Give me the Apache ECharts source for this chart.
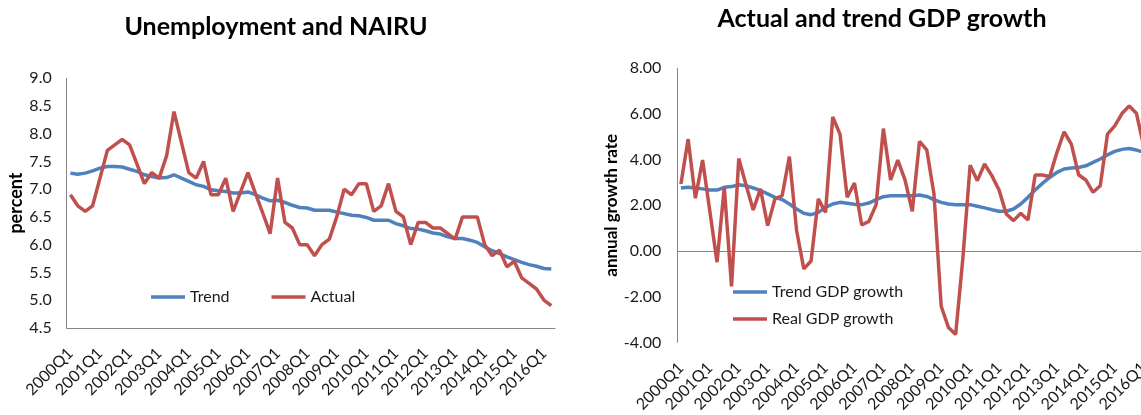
<!DOCTYPE html>
<html>
<head>
<meta charset="utf-8">
<script src="https://cdn.jsdelivr.net/npm/echarts@6/dist/echarts.min.js"></script>
<style>
html,body{margin:0;padding:0;background:#fff;overflow:hidden;width:1141px;height:415px;}
#c{width:1200px;height:415px;}
</style>
</head>
<body>
<div id="c"></div>
<script>
const quarters = [
"2000Q1","2000Q2","2000Q3","2000Q4","2001Q1","2001Q2","2001Q3","2001Q4",
"2002Q1","2002Q2","2002Q3","2002Q4","2003Q1","2003Q2","2003Q3","2003Q4",
"2004Q1","2004Q2","2004Q3","2004Q4","2005Q1","2005Q2","2005Q3","2005Q4",
"2006Q1","2006Q2","2006Q3","2006Q4","2007Q1","2007Q2","2007Q3","2007Q4",
"2008Q1","2008Q2","2008Q3","2008Q4","2009Q1","2009Q2","2009Q3","2009Q4",
"2010Q1","2010Q2","2010Q3","2010Q4","2011Q1","2011Q2","2011Q3","2011Q4",
"2012Q1","2012Q2","2012Q3","2012Q4","2013Q1","2013Q2","2013Q3","2013Q4",
"2014Q1","2014Q2","2014Q3","2014Q4","2015Q1","2015Q2","2015Q3","2015Q4",
"2016Q1","2016Q2"];

const unempTrend = [
7.29,7.27,7.29,7.33,7.38,7.41,7.41,7.40,7.36,7.32,
7.26,7.23,7.20,7.21,7.26,7.20,7.14,7.08,7.05,6.99,
6.97,6.96,6.93,6.93,6.95,6.90,6.84,6.79,6.80,6.76,
6.71,6.67,6.66,6.62,6.62,6.62,6.59,6.56,6.53,6.52,
6.49,6.44,6.44,6.44,6.38,6.34,6.29,6.28,6.25,6.21,
6.19,6.14,6.11,6.11,6.08,6.04,5.96,5.89,5.84,5.78,
5.73,5.68,5.64,5.61,5.57,5.56];

const unempActual = [
6.9,6.7,6.6,6.7,7.2,7.7,7.8,7.9,7.8,7.45,
7.1,7.3,7.2,7.6,8.4,7.85,7.3,7.2,7.5,6.9,
6.9,7.2,6.6,6.95,7.3,6.93,6.57,6.2,7.2,6.4,
6.3,6.0,6.0,5.8,6.0,6.1,6.5,7.0,6.9,7.1,
7.1,6.6,6.7,7.1,6.6,6.5,6.0,6.4,6.4,6.3,
6.3,6.2,6.1,6.5,6.5,6.5,6.0,5.8,5.9,5.6,
5.7,5.4,5.3,5.2,5.0,4.9];

const gdpTrend = [
2.76,2.79,2.76,2.72,2.67,2.67,2.79,2.82,2.90,2.86,
2.76,2.64,2.50,2.35,2.25,2.06,1.84,1.65,1.59,1.69,
1.91,2.06,2.13,2.09,2.05,2.03,2.10,2.25,2.38,2.42,
2.42,2.42,2.42,2.45,2.39,2.25,2.13,2.06,2.03,2.03,
2.03,1.96,1.89,1.81,1.74,1.74,1.84,2.06,2.35,2.67,
2.96,3.22,3.44,3.59,3.63,3.66,3.73,3.88,4.03,4.21,
4.36,4.45,4.49,4.42,4.33,null];

const gdpReal = [
2.93,4.90,2.31,3.98,1.74,-0.49,2.79,-1.55,4.05,2.9,
1.80,2.72,1.11,2.28,2.42,4.13,0.90,-0.78,-0.44,2.28,
1.69,5.87,5.12,2.35,2.98,1.14,1.30,2.03,5.36,3.11,
3.98,3.1,1.74,4.80,4.43,2.5,-2.42,-3.35,-3.65,-0.3,
3.76,3.08,3.81,3.30,2.67,1.62,1.33,1.65,1.36,3.33,
3.33,3.25,4.31,5.22,4.68,3.34,3.11,2.57,2.86,5.12,
5.48,6.02,6.35,6.03,4.6,null];

const FONT = 'Lato';
const BLUE = '#4F81BD';
const RED = '#C0504D';
const AXIS = '#868686';
const TXT = '#1a1a1a';

const chart = echarts.init(document.getElementById('c'), null, {renderer:'canvas'});

function catAxis(grid, showLine){
  return {
    type:'category', gridIndex:grid, data:quarters, boundaryGap:true,
    axisLine:{show:showLine, onZero:false, lineStyle:{color:AXIS,width:1}},
    axisTick:{show:false},
    axisLabel:{interval:3, rotate:45, margin:23, fontFamily:FONT, fontSize:16, color:TXT}
  };
}

chart.setOption({
  animation:false,
  title:[
    {text:'Unemployment and NAIRU', left:276, top:14, textAlign:'center', padding:0,
     textStyle:{fontFamily:FONT, fontWeight:'bold', fontSize:25, color:'#000'}},
    {text:'Actual and trend GDP growth', left:882, top:6, textAlign:'center', padding:0,
     textStyle:{fontFamily:FONT, fontWeight:'bold', fontSize:25, color:'#000'}}
  ],
  legend:[
    {data:['Trend','Actual'], left:151, top:289, padding:0, itemGap:42,
     icon:'rect', itemWidth:34, itemHeight:3.5,
     textStyle:{fontFamily:FONT, fontSize:16, color:TXT, lineHeight:16}},
    {data:['Trend GDP growth','Real GDP growth'], orient:'vertical', left:733, top:284, padding:0, itemGap:11,
     icon:'rect', itemWidth:34, itemHeight:3.5,
     textStyle:{fontFamily:FONT, fontSize:16, color:TXT, lineHeight:16}}
  ],
  grid:[
    {left:66.7, top:78.3, width:488.3, height:249.5},
    {left:677.3, top:68.3, width:477.2, height:275}
  ],
  xAxis:[
    catAxis(0, true),
    catAxis(1, false),
    {type:'category', gridIndex:1, data:quarters, boundaryGap:true, position:'bottom',
     axisLine:{show:true, onZero:true, lineStyle:{color:AXIS,width:1}},
     axisTick:{show:false}, axisLabel:{show:false}}
  ],
  yAxis:[
    {type:'value', gridIndex:0, min:4.5, max:9.0, interval:0.5,
     name:'percent', nameLocation:'middle', nameGap:41,
     nameTextStyle:{fontFamily:FONT, fontWeight:'bold', fontSize:18, color:'#000'},
     axisLine:{show:true, lineStyle:{color:AXIS,width:1}}, axisTick:{show:false},
     splitLine:{show:false},
     axisLabel:{margin:15, fontFamily:FONT, fontSize:16, color:TXT, formatter:v=>v.toFixed(1)}},
    {type:'value', gridIndex:1, min:-4, max:8, interval:2,
     name:'annual growth rate', nameLocation:'middle', nameGap:52,
     nameTextStyle:{fontFamily:FONT, fontWeight:'bold', fontSize:17, color:'#000'},
     axisLine:{show:true, lineStyle:{color:AXIS,width:1}}, axisTick:{show:false},
     splitLine:{show:false},
     axisLabel:{margin:16, fontFamily:FONT, fontSize:16, color:TXT, formatter:v=>v.toFixed(2)}}
  ],
  series:[
    {name:'Trend', type:'line', xAxisIndex:0, yAxisIndex:0, data:unempTrend,
     symbol:'none', lineStyle:{color:BLUE, width:3.5}, itemStyle:{color:BLUE}},
    {name:'Actual', type:'line', xAxisIndex:0, yAxisIndex:0, data:unempActual,
     symbol:'none', lineStyle:{color:RED, width:3.5}, itemStyle:{color:RED}},
    {name:'Trend GDP growth', type:'line', xAxisIndex:1, yAxisIndex:1, data:gdpTrend,
     symbol:'none', lineStyle:{color:BLUE, width:3.5}, itemStyle:{color:BLUE}},
    {name:'Real GDP growth', type:'line', xAxisIndex:1, yAxisIndex:1, data:gdpReal,
     symbol:'none', lineStyle:{color:RED, width:3.5}, itemStyle:{color:RED}}
  ]
});
</script>
</body>
</html>
